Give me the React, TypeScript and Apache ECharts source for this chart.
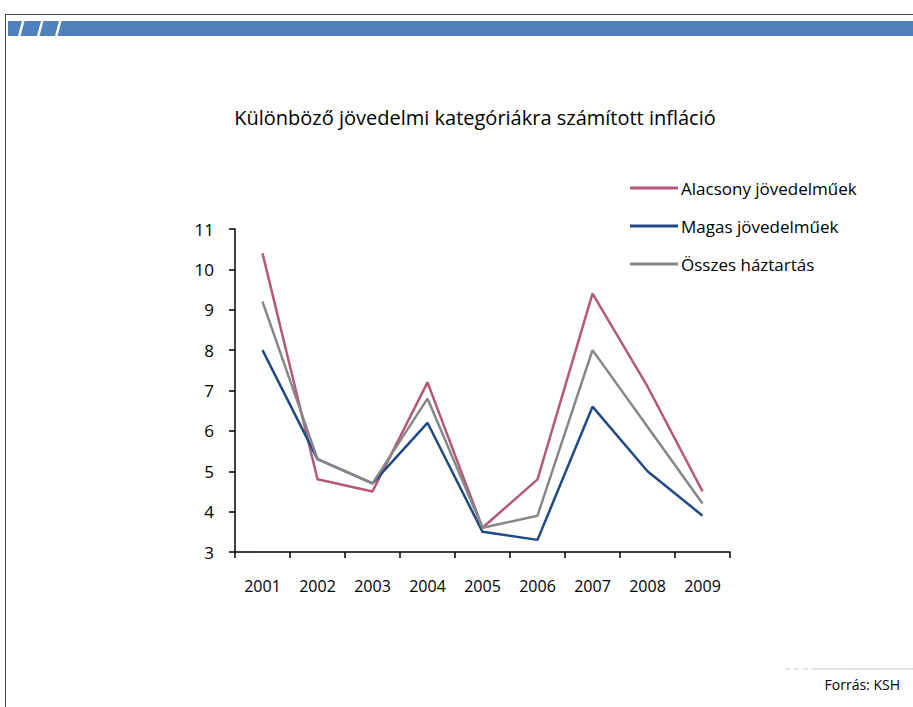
import React, { useEffect, useRef } from "react";
import * as echarts from "echarts";

const years = ["2001", "2002", "2003", "2004", "2005", "2006", "2007", "2008", "2009"];
const alacsony = [10.4, 4.8, 4.5, 7.2, 3.6, 4.8, 9.4, 7.1, 4.5];
const magas = [8.0, 5.3, 4.7, 6.2, 3.5, 3.3, 6.6, 5.0, 3.9];
const osszes = [9.2, 5.3, 4.7, 6.8, 3.6, 3.9, 8.0, 6.1, 4.2];
const seriesNames = ["Alacsony jövedelműek", "Magas jövedelműek", "Összes háztartás"];
const colors = ["#b5587b", "#1f4a85", "#878787"];

const FONT = "'Open Sans', 'Noto Sans', sans-serif";

export default function App() {
  const ref = useRef<HTMLDivElement>(null);
  useEffect(() => {
    document.body.style.margin = "0";
    const chart = echarts.init(ref.current!, undefined, { renderer: "svg" });
    const slash = (x: number) => ({
      type: "polygon",
      shape: { points: [[x + 3, 21], [x + 5.5, 21], [x + 1.5, 36], [x - 1, 36]] },
      style: { fill: "#ffffff" },
      z: 10,
    });
    chart.setOption({
      animation: false,
      backgroundColor: "#ffffff",
      title: {
        text: "Különböző jövedelmi kategóriákra számított infláció",
        left: 470,
        textAlign: "center",
        top: 102,
        textStyle: { fontFamily: FONT, fontSize: 20, fontWeight: "normal", color: "#000" },
      },
      legend: {
        orient: "vertical",
        left: 625,
        top: 173,
        icon: "rect",
        itemWidth: 48,
        itemHeight: 3,
        itemGap: 18,
        data: seriesNames,
        textStyle: { fontFamily: FONT, fontSize: 17, color: "#000", padding: [0, 0, 0, -2], lineHeight: 20 },
      },
      grid: { left: 235, top: 229, width: 495, height: 323 },
      xAxis: {
        type: "category",
        data: years,
        boundaryGap: true,
        axisLine: { lineStyle: { color: "#000", width: 1.5 } },
        axisTick: { show: true, length: 6, lineStyle: { color: "#000", width: 1.5 } },
        axisLabel: { fontFamily: FONT, fontSize: 16, color: "#000", margin: 26 },
      },
      yAxis: {
        type: "value",
        min: 3,
        max: 11,
        interval: 1,
        splitLine: { show: false },
        axisLine: { show: true, lineStyle: { color: "#000", width: 1.5 } },
        axisTick: { show: true, length: 6, lineStyle: { color: "#000", width: 1.5 } },
        axisLabel: { fontFamily: FONT, fontSize: 17, color: "#000", margin: 21 },
      },
      series: [
        { name: seriesNames[0], type: "line", data: alacsony, symbol: "none", lineStyle: { width: 2.5, color: colors[0] }, itemStyle: { color: colors[0] } },
        { name: seriesNames[1], type: "line", data: magas, symbol: "none", lineStyle: { width: 2.5, color: colors[1] }, itemStyle: { color: colors[1] } },
        { name: seriesNames[2], type: "line", data: osszes, symbol: "none", lineStyle: { width: 2.5, color: colors[2] }, itemStyle: { color: colors[2] } },
      ],
      graphic: [
        { type: "line", shape: { x1: 5, y1: 14.5, x2: 913, y2: 14.5 }, style: { stroke: "#444", lineWidth: 1 } },
        { type: "line", shape: { x1: 5.5, y1: 14, x2: 5.5, y2: 707 }, style: { stroke: "#444", lineWidth: 1 } },
        { type: "rect", shape: { x: 8, y: 21, width: 905, height: 15 }, style: { fill: "#4f81bd" } },
        slash(19),
        slash(38),
        slash(56),
        { type: "line", shape: { x1: 785, y1: 669, x2: 913, y2: 669 }, style: { stroke: "#dddddd", lineWidth: 1.5, lineDash: [5, 4] } },
        { type: "line", shape: { x1: 815, y1: 669, x2: 913, y2: 669 }, style: { stroke: "#dddddd", lineWidth: 1.5 } },
        {
          type: "text",
          right: 13,
          top: 677,
          style: { text: "Forrás: KSH", fontFamily: FONT, fontSize: 14, fill: "#000" },
        },
      ],
    });
    return () => chart.dispose();
  }, []);
  return <div ref={ref} style={{ width: 913, height: 707 }} />;
}
